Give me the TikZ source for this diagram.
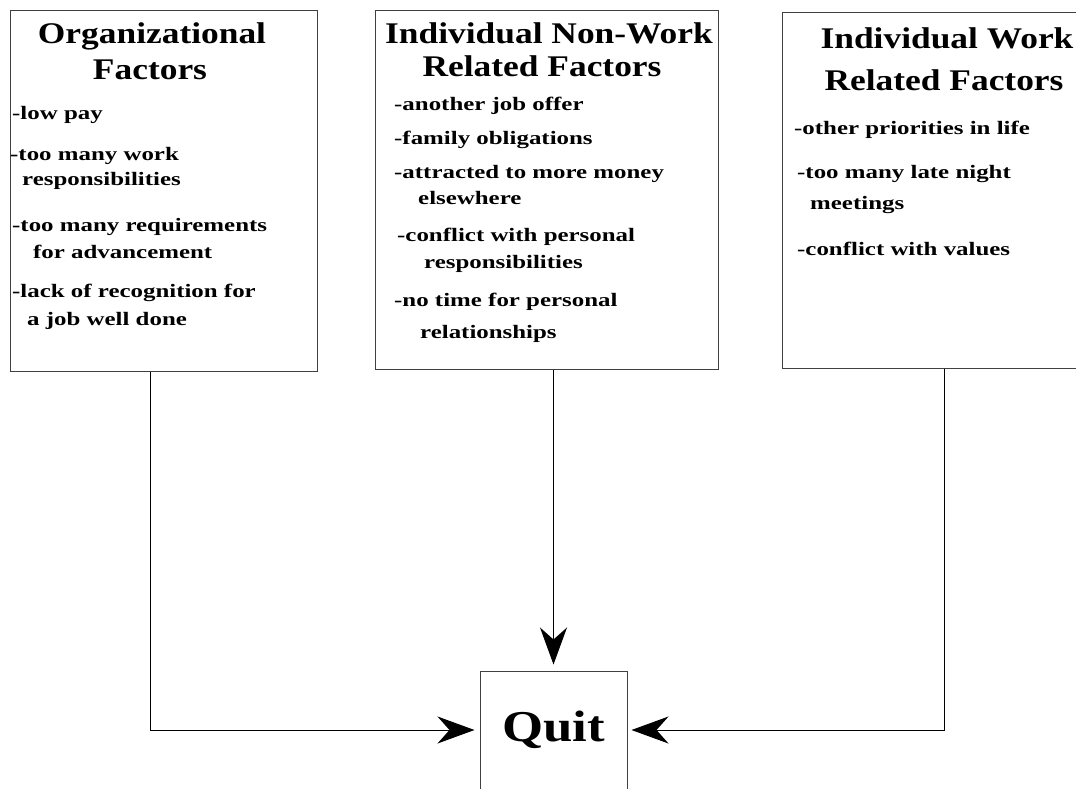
\documentclass[tikz,border=0pt]{standalone}
\usepackage{fontspec}
\setmainfont{Liberation Serif}
\newfontfamily\widefont[FakeStretch=1.31]{Liberation Serif}
\newfontfamily\titlefont[FakeStretch=1.18]{Liberation Serif}
\newfontfamily\quitfont[FakeStretch=1.2]{Liberation Serif}
\usetikzlibrary{arrows.meta}
\begin{document}
\begin{tikzpicture}[x=1pt,y=-1pt,
  box/.style={draw=black!75, line width=1pt, rectangle, inner sep=0pt},
  ttl/.style={font=\titlefont\bfseries\fontsize{30}{33}\selectfont, inner sep=0pt, anchor=base},
  itm/.style={font=\widefont\bfseries\fontsize{19}{22}\selectfont, inner sep=0pt, anchor=west, text height=13pt, text depth=4pt},
  conn/.style={draw=black, line width=1pt},
  arr/.style={conn, -{Stealth[length=37pt, width=27pt, inset=12pt]}}
]
\useasboundingbox (0,0) rectangle (1076,788);
\fill[white] (0,0) rectangle (1076,788);

% boxes
\node[box, minimum width=307pt, minimum height=361pt] (org) at (163.5,190.5) {};
\node[box, minimum width=343pt, minimum height=359pt] (nw) at (546.5,189.5) {};
\node[box, minimum width=318pt, minimum height=356pt] (iw) at (941,190) {};
\node[box, minimum width=147pt, minimum height=118pt, font=\quitfont\bfseries\fontsize{44}{48}\selectfont] (quit) at (553.5,730) {Quit};

% box 1
\node[ttl] (t1a) at (152,43) {Organizational};
\node[ttl] (t1b) at (150,79) {Factors};
\node[itm] (a1) at (12,115) {-low pay};
\node[itm] (a2) at (10,156) {-too many work};
\node[itm] (a3) at (22,181) {responsibilities};
\node[itm] (a4) at (12,227) {-too many requirements};
\node[itm] (a5) at (33,254) {for advancement};
\node[itm] (a6) at (12,293) {-lack of recognition for};
\node[itm] (a7) at (27,321) {a job well done};

% box 2
\node[ttl] (t2a) at (549,43) {Individual Non-Work};
\node[ttl] (t2b) at (542,76) {Related Factors};
\node[itm] (b1) at (394,106) {-another job offer};
\node[itm] (b2) at (394,140) {-family obligations};
\node[itm] (b3) at (394,174) {-attracted to more money};
\node[itm] (b4) at (418,200) {elsewhere};
\node[itm] (b5) at (397,237) {-conflict with personal};
\node[itm] (b6) at (424,264) {responsibilities};
\node[itm] (b7) at (394,302) {-no time for personal};
\node[itm] (b8) at (420,334) {relationships};

% box 3
\node[ttl] (t3a) at (947,48) {Individual Work};
\node[ttl] (t3b) at (944,90) {Related Factors};
\node[itm] (c1) at (794,130) {-other priorities in life};
\node[itm] (c2) at (797,174) {-too many late night};
\node[itm] (c3) at (810,205) {meetings};
\node[itm] (c4) at (797,251) {-conflict with values};

% connectors
\draw[arr, shorten >=5pt] ([xshift=-13.5pt]org.south) |- (quit.west);
\draw[arr, shorten >=6pt] (quit.north |- nw.south) -- (quit.north);
\draw[arr, shorten >=4pt] ([xshift=3pt]iw.south) |- (quit.east);
\end{tikzpicture}
\end{document}
